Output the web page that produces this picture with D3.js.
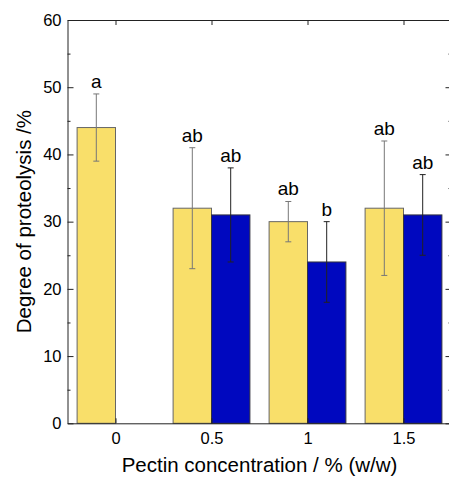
<!DOCTYPE html>
<html>
<head>
<meta charset="utf-8">
<script src="https://cdn.jsdelivr.net/npm/d3@7"></script>
<style>
  html, body { margin: 0; padding: 0; background: #fff; }
  svg { display: block; font-family: "Liberation Sans", Arial, sans-serif; }
</style>
</head>
<body>
<svg id="chart" width="449" height="477"></svg>
<script>
// ---- data ----
const categories = [0, 0.5, 1, 1.5];
const categoryLabels = ["0", "0.5", "1", "1.5"];
const yellowValues = [44, 32, 30, 32];
const yellowErrors = [5, 9, 3, 10];
const yellowLetters = ["a", "ab", "ab", "ab"];
const blueValues = [null, 31, 24, 31];
const blueErrors = [null, 7, 6, 6];
const blueLetters = [null, "ab", "b", "ab"];
const yTicks = [0, 10, 20, 30, 40, 50, 60];
const yMinorTicks = [5, 15, 25, 35, 45, 55];
const xTitle = "Pectin concentration / % (w/w)";
const yTitle = "Degree of proteolysis /%";

(function () {
// ---- layout ----
const svg = d3.select("#chart");
const L = 67.5, R = 451.5, T = 20, B = 423.3;
const x = d3.scaleLinear().domain([-0.25, 1.75]).range([L, R]);
const y = d3.scaleLinear().domain([0, 60]).range([B, T]);
const barW = 0.2;

svg.append("rect").attr("width", 449).attr("height", 477).attr("fill", "#fff");

const series = [
  { vals: yellowValues, errs: yellowErrors, letters: yellowLetters, off: -barW, fill: "#F9DF6A", stroke: "#666", err: "#777" },
  { vals: blueValues, errs: blueErrors, letters: blueLetters, off: 0, fill: "#0008BF", stroke: "#333340", err: "#222" }
];

const gBars = svg.append("g");
series.forEach(s => {
  const data = categories.map((c, i) => ({ c, v: s.vals[i], e: s.errs[i], l: s.letters[i] })).filter(d => d.v != null);
  gBars.selectAll(null).data(data).enter().append("rect")
    .attr("x", d => x(d.c + s.off))
    .attr("y", d => y(d.v))
    .attr("width", d => x(d.c + s.off + barW) - x(d.c + s.off))
    .attr("height", d => y(0) - y(d.v))
    .attr("fill", s.fill)
    .attr("stroke", s.stroke)
    .attr("stroke-width", 1);
  const cx = d => x(d.c + s.off + barW / 2);
  const eg = gBars.selectAll(null).data(data).enter().append("g")
    .attr("stroke", s.err).attr("stroke-width", 1);
  eg.append("line").attr("x1", cx).attr("x2", cx).attr("y1", d => y(d.v + d.e)).attr("y2", d => y(d.v - d.e));
  eg.append("line").attr("x1", d => cx(d) - 3).attr("x2", d => cx(d) + 3).attr("y1", d => y(d.v + d.e)).attr("y2", d => y(d.v + d.e));
  eg.append("line").attr("x1", d => cx(d) - 3).attr("x2", d => cx(d) + 3).attr("y1", d => y(d.v - d.e)).attr("y2", d => y(d.v - d.e));
  gBars.selectAll(null).data(data).enter().append("text")
    .attr("x", cx)
    .attr("y", d => y(d.v + d.e) - 6)
    .attr("text-anchor", "middle")
    .attr("font-size", 19)
    .attr("fill", "#000")
    .text(d => d.l);
});

// ---- axes ----
function styleAxis(g) {
  g.selectAll("path").attr("stroke", "#222");
  g.selectAll("line").attr("stroke", "#222");
  g.selectAll("text").attr("fill", "#000").attr("font-size", 16.5).attr("font-family", "Liberation Sans, Arial, sans-serif");
}

const leftAx = svg.append("g").attr("transform", `translate(${L},0)`)
  .call(d3.axisLeft(y).tickValues(yTicks).tickFormat(d3.format("d")).tickSizeInner(-6).tickSizeOuter(0).tickPadding(6));
styleAxis(leftAx);
const leftMinor = svg.append("g").attr("transform", `translate(${L},0)`)
  .call(d3.axisLeft(y).tickValues(yMinorTicks).tickFormat("").tickSizeInner(-3).tickSizeOuter(0));
styleAxis(leftMinor);
leftMinor.select("path").remove();

const rightAx = svg.append("g").attr("transform", `translate(${R},0)`)
  .call(d3.axisRight(y).tickValues(yTicks).tickFormat("").tickSizeInner(-6).tickSizeOuter(0));
styleAxis(rightAx);
const rightMinor = svg.append("g").attr("transform", `translate(${R},0)`)
  .call(d3.axisRight(y).tickValues(yMinorTicks).tickFormat("").tickSizeInner(-3).tickSizeOuter(0));
styleAxis(rightMinor);
rightMinor.select("path").remove();

const bottomAx = svg.append("g").attr("transform", `translate(0,${B})`)
  .call(d3.axisBottom(x).tickValues(categories).tickFormat((d, i) => categoryLabels[i]).tickSizeInner(-5).tickSizeOuter(0).tickPadding(9));
styleAxis(bottomAx);
const topAx = svg.append("g").attr("transform", `translate(0,${T})`)
  .call(d3.axisTop(x).tickValues(categories).tickFormat("").tickSizeInner(-5).tickSizeOuter(0));
styleAxis(topAx);

// ---- titles ----
svg.append("text")
  .attr("x", (L + R) / 2).attr("y", 472)
  .attr("text-anchor", "middle").attr("font-size", 20.5).attr("fill", "#000")
  .text(xTitle);
svg.append("text")
  .attr("transform", `translate(31,${(T + B) / 2}) rotate(-90)`)
  .attr("text-anchor", "middle").attr("font-size", 20.5).attr("fill", "#000")
  .text(yTitle);
})();
</script>
</body>
</html>
